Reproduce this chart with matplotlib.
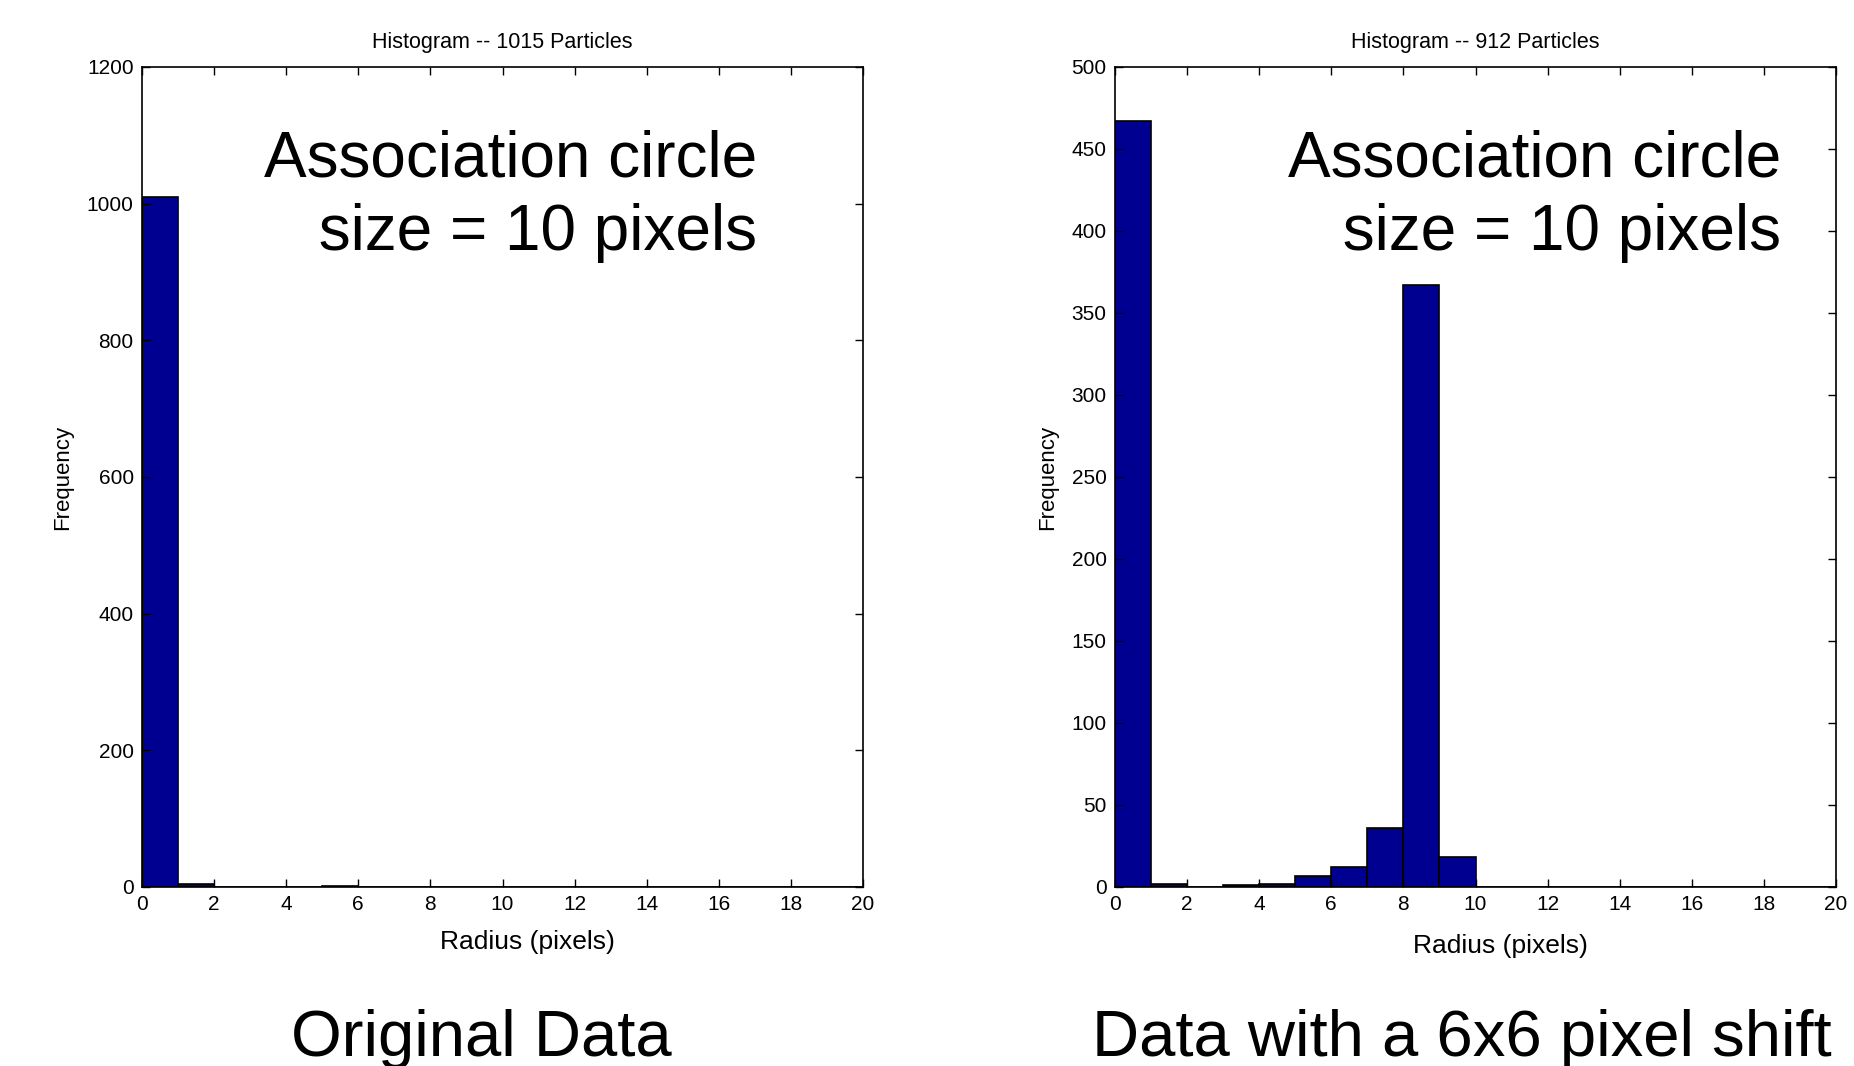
import numpy as np
import matplotlib
matplotlib.use("Agg")
from matplotlib import pyplot as plt

plt.rcParams['font.family'] = ['Liberation Sans', 'DejaVu Sans']

# histogram bin edges (radius in pixels) and counts
bin_edges = np.arange(0, 21, 1)
left_counts = [1010, 4, 0, 0, 0, 1, 0, 0, 0, 0, 0, 0, 0, 0, 0, 0, 0, 0, 0, 0]
right_counts = [467, 2, 0, 1, 2, 7, 12, 36, 367, 18, 0, 0, 0, 0, 0, 0, 0, 0, 0, 0]

left_title = "Histogram -- 1015 Particles"
right_title = "Histogram -- 912 Particles"
left_caption = "Original Data"
right_caption = "Data with a 6x6 pixel shift"
note = "Association circle\n size = 10 pixels"

x_ticks = np.arange(0, 21, 2)
left_yticks = np.arange(0, 1201, 200)
right_yticks = np.arange(0, 501, 50)

W, H = 1854, 1066
fig = plt.figure(figsize=(W / 100, H / 100), dpi=100)


def panel(x0, counts, yticks, title, caption, note_x, cap_x, xlab_y):
    ax = fig.add_axes([x0 / W, (H - 887) / H, 721 / W, 820 / H])
    ax.bar(bin_edges[:-1], counts, width=1, align='edge',
           color='#000090', edgecolor='black', linewidth=1.2)
    ax.set_xlim(0, 20)
    ax.set_ylim(yticks[0], yticks[-1])
    ax.set_xticks(x_ticks)
    ax.set_yticks(yticks)
    ax.tick_params(direction='in', top=True, right=True, length=6,
                   width=1, labelsize=15)
    ax.tick_params(axis='x', pad=6)
    ax.tick_params(axis='y', pad=6)
    ax.set_title(title, fontsize=15.5, pad=14)
    # x label sits a bit right of the axes centre in the original
    ax.text(0.5 + 25 / 721, (887 - xlab_y) / 820, "Radius (pixels)",
            transform=ax.transAxes, ha='center', va='center', fontsize=19)
    ax.set_ylabel("Frequency", fontsize=16, labelpad=10)
    for s in ax.spines.values():
        s.set_linewidth(1.2)
    fig.text(note_x / W, (H - 250) / H, note, ha='right', va='baseline',
             multialignment='right', fontsize=46, linespacing=1.28)
    fig.text(cap_x / W, (H - 1056) / H, caption, ha='center',
             va='baseline', fontsize=47)
    return ax


panel(142, left_counts, left_yticks, left_title, left_caption, 757, 481, 942)
panel(1115, right_counts, right_yticks, right_title, right_caption, 1781, 1462, 946)

fig.savefig("out.png", dpi=100)
